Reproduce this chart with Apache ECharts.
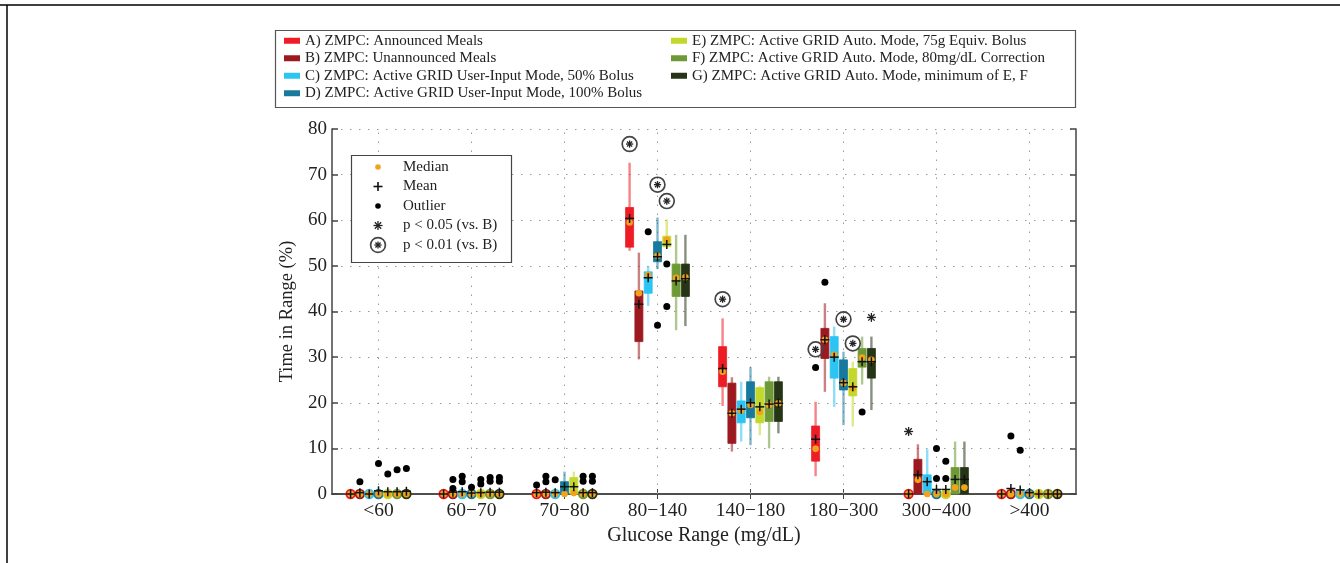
<!DOCTYPE html>
<html>
<head>
<meta charset="utf-8">
<script src="https://cdn.jsdelivr.net/npm/echarts@6/dist/echarts.min.js"></script>
<style>
html,body{margin:0;padding:0;background:#fff;}
#chart{width:1340px;height:563px;}
</style>
</head>
<body>
<div id="chart"></div>
<script>
// ---------- DATA ----------
const categories = ['<60', '60\u221270', '70\u221280', '80\u2212140', '140\u2212180', '180\u2212300', '300\u2212400', '>400'];
const seriesNames = [
  'A) ZMPC: Announced Meals',
  'B) ZMPC: Unannounced Meals',
  'C) ZMPC: Active GRID User-Input Mode, 50% Bolus',
  'D) ZMPC: Active GRID User-Input Mode, 100% Bolus',
  'E) ZMPC: Active GRID Auto. Mode, 75g Equiv. Bolus',
  'F) ZMPC: Active GRID Auto. Mode, 80mg/dL Correction',
  'G) ZMPC: Active GRID Auto. Mode, minimum of E, F'
];
const yTicks = { min: 0, max: 80, step: 10 };

// box stats per category: [whiskerLow, q1, median, q3, whiskerHigh]
const boxA = [[0,0,0,0,0],[0,0,0,0,0],[0,0,0,0,0.4],[53.3,54.1,59.5,62.8,72.6],[19.3,23.5,26.8,32.3,38.5],[3.9,7.2,9.9,14.9,20.2],[0,0,0,0,0],[0,0,0,0,0]];
const meanA = [0,0,0.3,60.4,27.5,12.0,0,0];
const outA = [[2,2.0],[5,27.7]];
const sigA = [[3,76.7,2],[4,42.7,2],[5,31.7,2],[6,13.7,1]];

const boxB = [[0,0,0,0,0.3],[0,0,0,0,0.5],[0,0,0,0,0.6],[29.5,33.4,44.0,44.5,52.9],[9.3,11.1,17.7,24.3,25.6],[22.4,29.7,33.8,36.3,41.8],[0,0,3.1,7.6,10.9],[0,0,0,0,0.5]];
const meanB = [0.3,0.4,0.4,41.6,17.7,33.8,4.2,1.2];
const outB = [[0,2.7],[1,3.2],[1,1.2],[2,3.9],[2,2.7],[5,46.4],[7,12.7]];
const sigB = [];

const boxC = [[0,0,0,0,0],[0,0,0,0,0.3],[0,0,0,0,0.3],[41.2,44.0,48.0,48.7,50.0],[11.5,15.6,18.3,20.4,24.6],[19.1,25.4,30.5,34.5,36.7],[0,0,0,4.2,9.8],[0,0,0,0,0.3]];
const meanC = [0,0.5,0.3,47.4,18.6,30.0,2.7,0.9];
const outC = [[1,3.9],[1,2.7],[2,3.1],[3,57.5],[7,9.6]];
const sigC = [];

const boxD = [[0,0,0,0,0.6],[0,0,0,0,0.3],[0,0,0,2.7,4.9],[49.3,50.9,52.2,55.3,60.6],[10.7,16.7,19.5,24.6,27.8],[15.1,22.8,24.3,29.4,31.2],[0,0,0,0,0.5],[0,0,0,0,0]];
const meanD = [0.7,0.2,1.6,52.0,20.0,24.4,1.0,0.3];
const outD = [[0,6.7],[1,1.5],[3,37.0],[6,10.0],[6,3.4]];
const sigD = [[3,67.8,2],[5,38.3,2]];

const boxE = [[0,0,0,0,0.5],[0,0,0,0,0.4],[0,0,0.2,3.6,4.9],[54.0,54.2,55.7,56.5,60.2],[12.9,15.6,18.0,23.3,23.7],[14.8,21.5,23.2,27.5,29.0],[0,0,0,0,0.5],[0,0,0,0,0]];
const meanE = [0.5,0.3,1.6,54.7,19.1,23.5,1.0,0];
const outE = [[0,4.4],[1,3.2],[1,2.2],[3,50.4],[3,41.1],[6,7.2],[6,3.4]];
const sigE = [[3,64.2,2],[5,33.0,2]];

const boxF = [[0,0,0,0,0.5],[0,0,0,0,0.4],[0,0,0,0,0.4],[35.9,43.3,47.4,50.4,56.8],[10.0,15.9,19.5,24.6,25.7],[24.0,27.8,29.9,31.9,34.5],[0,0,1.4,5.8,11.5],[0,0,0,0,0]];
const meanF = [0.5,0.4,0.3,46.7,19.7,29.0,3.2,0];
const outF = [[0,5.3],[1,3.6],[1,2.8],[2,3.9],[2,2.8],[5,18.0]];
const sigF = [];

const boxG = [[0,0,0,0,0.5],[0,0,0,0,0.4],[0,0,0,0,0.4],[36.8,43.3,47.5,50.4,56.8],[13.3,15.9,19.9,24.6,25.7],[18.4,25.4,29.4,31.9,34.5],[0,0,1.4,5.8,11.5],[0,0,0,0,0]];
const meanG = [0.6,0.4,0.3,47.2,19.9,29.0,3.2,0];
const outG = [[0,5.6],[1,3.6],[1,2.8],[2,3.9],[2,2.8]];
const sigG = [[5,38.7,1]];

// ---------- STYLE ----------
const colors = ['#EE1D25', '#9C1A1F', '#2BC4F3', '#177A9C', '#C3D82B', '#6E9A36', '#253515'];
const MEDIAN_COLOR = '#F3A21C';
const FONT = '"Liberation Serif", "Times New Roman", serif';

const groups = [
  [boxA, meanA, outA, sigA], [boxB, meanB, outB, sigB], [boxC, meanC, outC, sigC],
  [boxD, meanD, outD, sigD], [boxE, meanE, outE, sigE], [boxF, meanF, outF, sigF],
  [boxG, meanG, outG, sigG]
];
const NG = groups.length;
const OFFSET_FRAC = 0.1; // fraction of category band between adjacent boxes

function cxOf(api, cat, k) {
  const base = api.coord([cat, 0])[0];
  const bw = api.size([1, 0])[0];
  return base + (k - (NG - 1) / 2) * bw * OFFSET_FRAC;
}

function asterisk(cx, cy, r, color, lw) {
  const ch = [];
  for (let a = 0; a < 4; a++) {
    const t = a * Math.PI / 4;
    ch.push({ type: 'line', shape: { x1: cx - r * Math.cos(t), y1: cy - r * Math.sin(t), x2: cx + r * Math.cos(t), y2: cy + r * Math.sin(t) },
      style: { stroke: color, lineWidth: lw } });
  }
  return ch;
}

function boxSeries(k) {
  const [box, mean] = groups[k];
  const data = box.map((b, i) => [i, b[0], b[1], b[2], b[3], b[4], mean[i]]);
  return {
    type: 'custom',
    name: seriesNames[k],
    coordinateSystem: 'cartesian2d',
    itemStyle: { color: colors[k] },
    z: 3,
    encode: { x: 0, y: [1, 2, 3, 4, 5, 6] },
    data: data,
    renderItem: function (params, api) {
      const cat = api.value(0);
      const cx = cxOf(api, cat, k);
      const y = v => api.coord([cat, v])[1];
      const wlo = api.value(1), q1 = api.value(2), med = api.value(3), q3 = api.value(4), whi = api.value(5), mn = api.value(6);
      const col = colors[k];
      const children = [];
      const hw = 4;
      if (whi - wlo > 0.01) {
        children.push({ type: 'line', shape: { x1: cx, y1: y(wlo), x2: cx, y2: y(whi) },
          style: { stroke: col, lineWidth: 2.4, opacity: 0.55 } });
      }
      const degenerate = (q3 - q1) < 0.05;
      if (!degenerate) {
        children.push({ type: 'rect', shape: { x: cx - hw, y: y(q3), width: 2 * hw, height: y(q1) - y(q3) },
          style: { fill: col, stroke: col, lineWidth: 0.8 } });
        children.push({ type: 'circle', shape: { cx: cx, cy: y(med), r: 3.3 }, style: { fill: MEDIAN_COLOR } });
      } else {
        children.push({ type: 'circle', shape: { cx: cx, cy: y(med), r: 4.3 },
          style: { fill: MEDIAN_COLOR, stroke: col, lineWidth: 1.8 } });
      }
      const my = y(mn), pr = 4.5;
      children.push({ type: 'line', shape: { x1: cx - pr, y1: my, x2: cx + pr, y2: my }, style: { stroke: '#111', lineWidth: 1.5 } });
      children.push({ type: 'line', shape: { x1: cx, y1: my - pr, x2: cx, y2: my + pr }, style: { stroke: '#111', lineWidth: 1.5 } });
      return { type: 'group', children: children };
    }
  };
}

const outlierData = [];
const sigData = [];
groups.forEach((g, k) => {
  g[2].forEach(o => outlierData.push([o[0], o[1], k]));
  g[3].forEach(s => sigData.push([s[0], s[1], k, s[2]]));
});

const outlierSeries = {
  type: 'custom', name: 'Outlier', coordinateSystem: 'cartesian2d', z: 4,
  encode: { x: 0, y: 1 }, data: outlierData,
  renderItem: function (params, api) {
    const cat = api.value(0), k = api.value(2);
    const cx = cxOf(api, cat, k), cy = api.coord([cat, api.value(1)])[1];
    return { type: 'circle', shape: { cx: cx, cy: cy, r: 3.5 }, style: { fill: '#000' } };
  }
};

const sigSeries = {
  type: 'custom', name: 'Significance', coordinateSystem: 'cartesian2d', z: 4,
  encode: { x: 0, y: 1 }, data: sigData,
  renderItem: function (params, api) {
    const cat = api.value(0), k = api.value(2), lvl = api.value(3);
    const cx = cxOf(api, cat, k), cy = api.coord([cat, api.value(1)])[1];
    if (lvl === 1) {
      return { type: 'group', children: asterisk(cx, cy, 4.5, '#222', 1.3) };
    }
    const ch = [{ type: 'circle', shape: { cx: cx, cy: cy, r: 7.4 }, style: { fill: 'rgba(255,255,255,0)', stroke: '#444', lineWidth: 1.7 } }]
      .concat(asterisk(cx, cy, 3.6, '#222', 1.3));
    return { type: 'group', children: ch };
  }
};

const gridLineSeries = {
  type: 'custom', name: 'vgrid', coordinateSystem: 'cartesian2d', z: 1, silent: true,
  encode: { x: 0, y: [1, 2] },
  data: categories.map((c, i) => [i, yTicks.min, yTicks.max]),
  renderItem: function (params, api) {
    const p0 = api.coord([api.value(0), api.value(1)]);
    const p1 = api.coord([api.value(0), api.value(2)]);
    return { type: 'line', shape: { x1: p0[0], y1: p0[1], x2: p1[0], y2: p1[1] },
      style: { stroke: '#9a9a9a', lineWidth: 1, lineDash: [1.5, 7.5] } };
  }
};

// ---------- CHART ----------
const chart = echarts.init(document.getElementById('chart'), null, { renderer: 'canvas' });
const axisLineStyle = { color: '#444', width: 1.5 };
const legendText = { fontFamily: FONT, fontSize: 15, color: '#222', lineHeight: 17.5 };

// inner legend
const innerItems = [
  { label: 'Median', kind: 'median' },
  { label: 'Mean', kind: 'mean' },
  { label: 'Outlier', kind: 'outlier' },
  { label: 'p < 0.05 (vs. B)', kind: 'sig1' },
  { label: 'p < 0.01 (vs. B)', kind: 'sig2' }
];
const innerGraphic = [];
innerGraphic.push({ type: 'rect', shape: { x: 351.5, y: 155.5, width: 160, height: 107 },
  style: { fill: '#fff', stroke: '#444', lineWidth: 1.2 }, z: 100 });
innerItems.forEach((it, i) => {
  const cy = 167 + i * 19.5, sx = 378;
  if (it.kind === 'median') innerGraphic.push({ type: 'circle', shape: { cx: sx, cy: cy, r: 2.8 }, style: { fill: MEDIAN_COLOR }, z: 101 });
  if (it.kind === 'mean') {
    innerGraphic.push({ type: 'line', shape: { x1: sx - 4.5, y1: cy, x2: sx + 4.5, y2: cy }, style: { stroke: '#111', lineWidth: 1.6 }, z: 101 });
    innerGraphic.push({ type: 'line', shape: { x1: sx, y1: cy - 4.5, x2: sx, y2: cy + 4.5 }, style: { stroke: '#111', lineWidth: 1.6 }, z: 101 });
  }
  if (it.kind === 'outlier') innerGraphic.push({ type: 'circle', shape: { cx: sx, cy: cy, r: 2.8 }, style: { fill: '#000' }, z: 101 });
  if (it.kind === 'sig1') asterisk(sx, cy, 4.5, '#222', 1.3).forEach(e => { e.z = 101; innerGraphic.push(e); });
  if (it.kind === 'sig2') {
    innerGraphic.push({ type: 'circle', shape: { cx: sx, cy: cy, r: 7.4 }, style: { fill: '#fff', stroke: '#444', lineWidth: 1.7 }, z: 101 });
    asterisk(sx, cy, 3.6, '#222', 1.3).forEach(e => { e.z = 102; innerGraphic.push(e); });
  }
  innerGraphic.push({ type: 'text', x: 403, y: cy, z: 101,
    style: { text: it.label, font: '15px ' + FONT, fill: '#222', verticalAlign: 'middle', align: 'left' } });
});

const option = {
  animation: false,
  backgroundColor: '#fff',
  color: colors,
  textStyle: { fontFamily: FONT },
  grid: { left: 332, right: 264, top: 129, bottom: 69, containLabel: false },
  legend: [
    { data: seriesNames.slice(0, 4), orient: 'vertical', left: 284, top: 32, padding: 0, itemGap: 0,
      itemWidth: 16, itemHeight: 6, icon: 'rect', selectedMode: false, textStyle: legendText },
    { data: seriesNames.slice(4), orient: 'vertical', left: 671, top: 32, padding: 0, itemGap: 0,
      itemWidth: 16, itemHeight: 6, icon: 'rect', selectedMode: false, textStyle: legendText }
  ],
  xAxis: [
    { type: 'category', data: categories, position: 'bottom', boundaryGap: true,
      name: 'Glucose Range (mg/dL)', nameLocation: 'middle', nameGap: 29,
      nameTextStyle: { fontFamily: FONT, fontSize: 20, color: '#222' },
      axisLine: { show: true, lineStyle: axisLineStyle },
      axisTick: { show: true, inside: true, alignWithLabel: true, length: 5, lineStyle: { color: '#444', width: 1 } },
      axisLabel: { fontFamily: FONT, fontSize: 19.5, color: '#222', margin: 7, interval: 0 },
      splitLine: { show: false } },
    { type: 'category', data: categories, position: 'top', boundaryGap: true,
      axisLine: { show: true, lineStyle: axisLineStyle },
      axisTick: { show: true, inside: true, alignWithLabel: true, length: 5, lineStyle: { color: '#444', width: 1 } },
      axisLabel: { show: false }, splitLine: { show: false } }
  ],
  yAxis: [
    { type: 'value', min: yTicks.min, max: yTicks.max, interval: yTicks.step, position: 'left',
      name: 'Time in Range (%)', nameLocation: 'middle', nameGap: 34, nameRotate: 90,
      nameTextStyle: { fontFamily: FONT, fontSize: 18.5, color: '#222' },
      axisLine: { show: true, lineStyle: axisLineStyle },
      axisTick: { show: true, inside: true, length: 6, lineStyle: { color: '#444', width: 1.5 } },
      axisLabel: { fontFamily: FONT, fontSize: 19, color: '#222', margin: 5 },
      splitLine: { show: true, lineStyle: { color: '#9a9a9a', width: 1, type: [1.5, 7.5] } } },
    { type: 'value', min: yTicks.min, max: yTicks.max, interval: yTicks.step, position: 'right',
      axisLine: { show: true, lineStyle: axisLineStyle },
      axisTick: { show: true, inside: true, length: 6, lineStyle: { color: '#444', width: 1.5 } },
      axisLabel: { show: false }, splitLine: { show: false } }
  ],
  series: [gridLineSeries].concat(groups.map((g, k) => boxSeries(k))).concat([outlierSeries, sigSeries]),
  graphic: [
    { type: 'line', shape: { x1: 0, y1: 5, x2: 1340, y2: 5 }, style: { stroke: '#000', lineWidth: 1.5 } },
    { type: 'line', shape: { x1: 7, y1: 5, x2: 7, y2: 563 }, style: { stroke: '#000', lineWidth: 1.5 } },
    { type: 'rect', shape: { x: 275.5, y: 30.5, width: 800, height: 77 }, style: { fill: 'rgba(0,0,0,0)', stroke: '#555', lineWidth: 1.2 }, z: -1 }
  ].concat(innerGraphic)
};
chart.setOption(option);
</script>
</body>
</html>
